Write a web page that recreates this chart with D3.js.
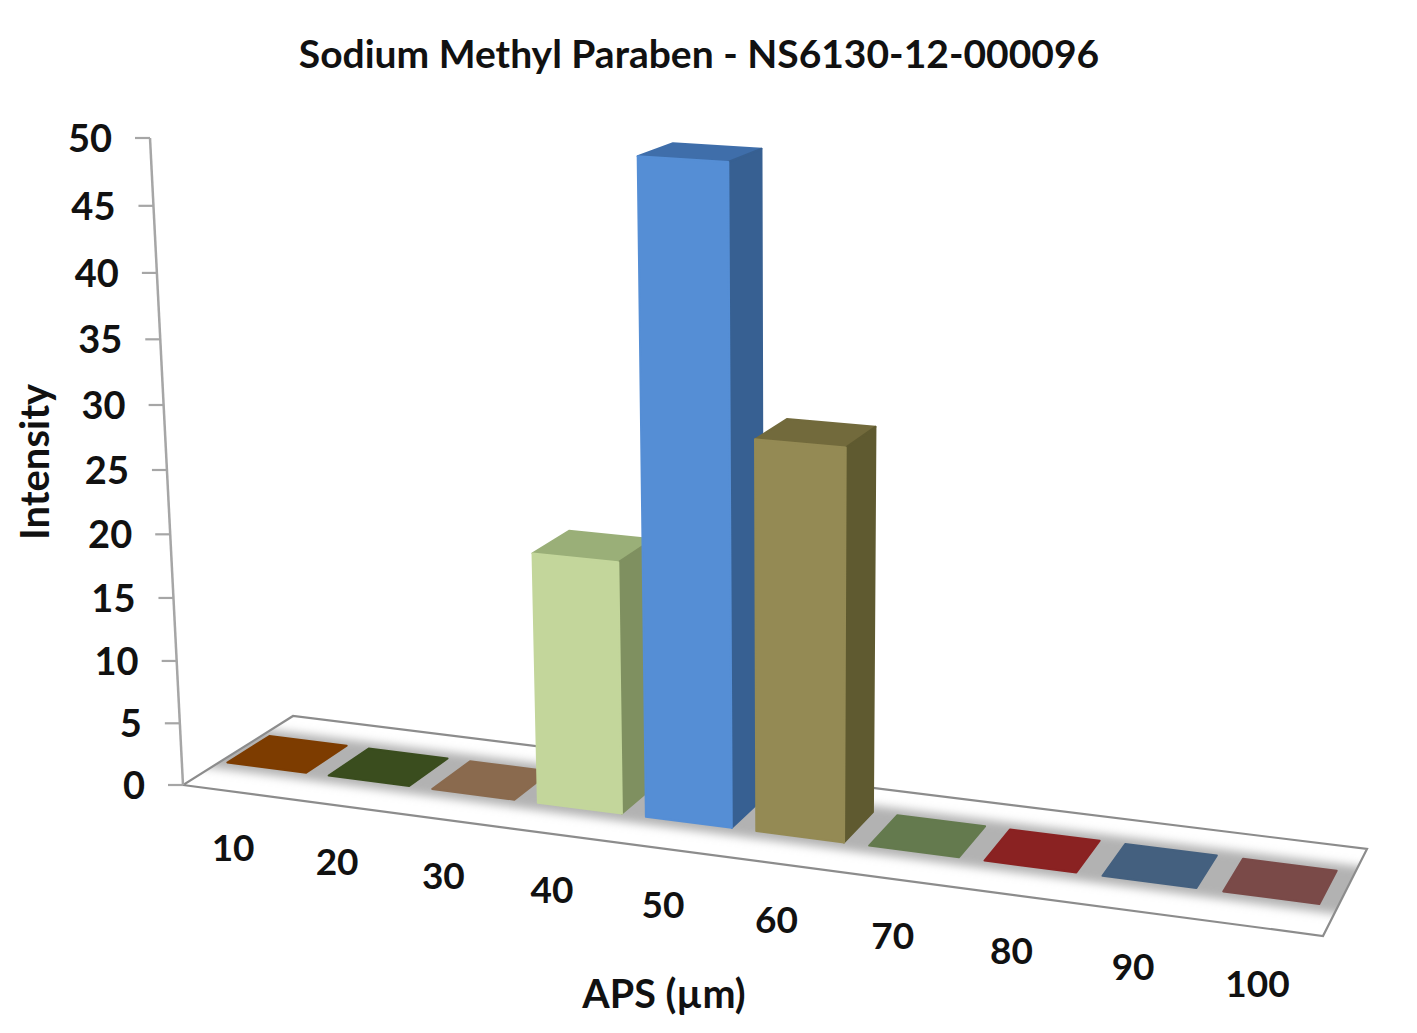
<!DOCTYPE html>
<html>
<head>
<meta charset="utf-8">
<script src="https://cdn.jsdelivr.net/npm/d3@7"></script>
<style>
    html, body { margin: 0; padding: 0; background: #fff; }
    text { font-family: Lato, "Open Sans", sans-serif; font-weight: 700; fill: #111; }
</style>
</head>
<body>
<div id="chart"></div>
<script>
const categories = ['10', '20', '30', '40', '50', '60', '70', '80', '90', '100'];
const values = [0, 0, 0, 19.7, 50, 30, 0, 0, 0, 0];
const valueTicks = [0, 5, 10, 15, 20, 25, 30, 35, 40, 45, 50];
const frontColors = ['#7d3c00', '#3a4d1e', '#8a6a4e', '#c3d69b', '#558ed5', '#948a54', '#647a4e', '#8a2222', '#44607f', '#7a4a48'];
const sideColors = ['#7d3c00', '#3a4d1e', '#8a6a4e', '#7f9060', '#376092', '#5f5a30', '#647a4e', '#8a2222', '#44607f', '#7a4a48'];
const topColors = ['#7d3c00', '#3a4d1e', '#8a6a4e', '#9aaf78', '#3f6eaa', '#726a3c', '#647a4e', '#8a2222', '#44607f', '#7a4a48'];

const width = 1417;
const height = 1033;

// floor corners in the picture: front-left, front-right, back-right, back-left
const floor = [[183, 785], [1323, 936], [1367, 849], [293, 716]];

// plane -> picture homography, plus a column for the height axis
const makeCamera = (q) => {
    const dx1 = q[1][0] - q[2][0], dx2 = q[3][0] - q[2][0], sx = q[0][0] - q[1][0] + q[2][0] - q[3][0];
    const dy1 = q[1][1] - q[2][1], dy2 = q[3][1] - q[2][1], sy = q[0][1] - q[1][1] + q[2][1] - q[3][1];
    const den = dx1 * dy2 - dx2 * dy1;
    const g = (sx * dy2 - dx2 * sy) / den;
    const h = (dx1 * sy - sx * dy1) / den;
    return {
        a: q[1][0] - q[0][0] + g * q[1][0], b: q[3][0] - q[0][0] + h * q[3][0], c: q[0][0],
        d: q[1][1] - q[0][1] + g * q[1][1], e: q[3][1] - q[0][1] + h * q[3][1], f: q[0][1],
        g: g, h: h,
        hx: -40.68, hy: -654.07, hw: -0.0512
    };
};
const cam = makeCamera(floor);
const project = (u, v, t) => {
    const w = cam.g * u + cam.h * v + cam.hw * t + 1;
    return [
        (cam.a * u + cam.b * v + cam.hx * t + cam.c) / w,
        (cam.d * u + cam.e * v + cam.hy * t + cam.f) / w
    ];
};

const xScale = d3.scaleBand()
    .domain(categories)
    .range([-0.004, 0.996])
    .paddingInner(0.22)
    .paddingOuter(0.11);
const yScale = d3.scaleLinear()
    .domain([0, 50])
    .range([0, 1]);
const barFront = 0.325;
const barBack = 0.71;

const chart = d3.select('#chart').append('svg')
    .attr('width', width)
    .attr('height', height)
    .style('display', 'block');

const defs = chart.append('defs');
defs.append('clipPath')
    .attr('id', 'floor-clip')
    .append('polygon')
    .attr('points', floor.join(' '));
defs.append('filter')
    .attr('id', 'blur')
    .attr('x', '-5%').attr('y', '-30%').attr('width', '110%').attr('height', '160%')
    .append('feGaussianBlur')
    .attr('stdDeviation', 5);

// floor shadow band
chart.append('g')
    .attr('clip-path', 'url(#floor-clip)')
    .append('polygon')
    .attr('points', [project(-0.05, 0.24, 0), project(1.05, 0.24, 0), project(1.05, 0.79, 0), project(-0.05, 0.79, 0)].join(' '))
    .attr('fill', '#b2b2b2')
    .attr('filter', 'url(#blur)');

// floor outline and wall
chart.append('polygon')
    .attr('points', floor.join(' '))
    .attr('fill', 'none')
    .attr('stroke', '#8c8c8c')
    .attr('stroke-width', 2.2);
chart.append('line')
    .attr('x1', project(0, 0, 0)[0]).attr('y1', project(0, 0, 0)[1])
    .attr('x2', project(0, 0, 1)[0]).attr('y2', project(0, 0, 1)[1])
    .attr('stroke', '#a6a6a6')
    .attr('stroke-width', 2.5);

// value ticks
const yAxis = chart.append('g').attr('class', 'y axis');
const tick = yAxis.selectAll('g')
    .data(valueTicks)
    .enter().append('g')
    .attr('transform', (d) => 'translate(' + project(0, 0, yScale(d)) + ')');
tick.append('line')
    .attr('x1', -15).attr('x2', 0)
    .attr('stroke', '#a6a6a6')
    .attr('stroke-width', 2.2);
tick.append('text')
    .attr('x', -38)
    .attr('y', 14)
    .attr('text-anchor', 'end')
    .attr('font-size', 38)
    .text((d) => d);

// bars, left to right so nearer ones overlap
const bars = chart.selectAll('.bar')
    .data(categories)
    .enter().append('g')
    .attr('class', 'bar');
const face = (sel, pts, fill) => {
    sel.append('polygon')
        .attr('points', pts.join(' '))
        .attr('fill', fill)
        .attr('stroke', fill)
        .attr('stroke-width', 2)
        .attr('stroke-linejoin', 'round');
};
bars.each(function (d, i) {
    const g = d3.select(this);
    const u0 = xScale(d);
    const u1 = u0 + xScale.bandwidth();
    const t = yScale(values[i]);
    face(g, [project(u0, barBack, t), project(u1, barBack, t), project(u1, barFront, t), project(u0, barFront, t)], topColors[i]);
    if (values[i] > 0) {
        face(g, [project(u1, barFront, 0), project(u1, barBack, 0), project(u1, barBack, t), project(u1, barFront, t)], sideColors[i]);
        face(g, [project(u0, barFront, 0), project(u1, barFront, 0), project(u1, barFront, t), project(u0, barFront, t)], frontColors[i]);
    }
});

// category labels
chart.append('g').attr('class', 'x axis')
    .selectAll('text')
    .data(categories)
    .enter().append('text')
    .attr('transform', (d) => {
        const p = project(xScale(d) + xScale.bandwidth() / 2, 0, 0);
        return 'translate(' + (p[0] + 3) + ',' + (p[1] + 70) + ')';
    })
    .attr('text-anchor', 'middle')
    .attr('font-size', 37)
    .text((d) => d);

// titles
chart.append('text')
    .attr('x', 699)
    .attr('y', 68)
    .attr('text-anchor', 'middle')
    .attr('font-size', 39)
    .text('Sodium Methyl Paraben - NS6130-12-000096');
chart.append('text')
    .attr('x', 664)
    .attr('y', 1008)
    .attr('text-anchor', 'middle')
    .attr('font-size', 39.5)
    .text('APS (µm)');
chart.append('text')
    .attr('transform', 'translate(49,462) rotate(-90)')
    .attr('text-anchor', 'middle')
    .attr('font-size', 40)
    .text('Intensity');
</script>
</body>
</html>
